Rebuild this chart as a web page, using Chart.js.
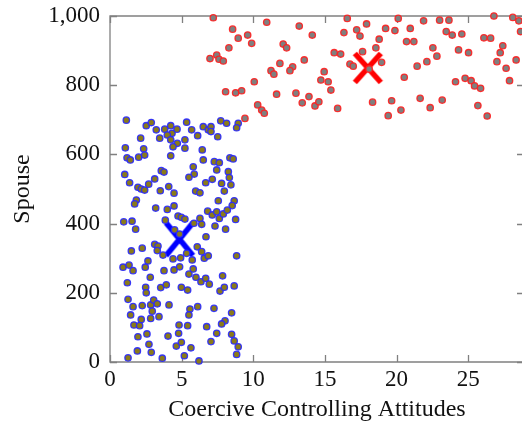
<!DOCTYPE html>
<html>
<head>
<meta charset="utf-8">
<script src="https://cdn.jsdelivr.net/npm/chart.js@4/dist/chart.umd.min.js"></script>
<style>
  html, body { margin: 0; padding: 0; overflow: hidden; background: #fff; }
  #wrap { width: 530px; height: 427px; }
</style>
</head>
<body>
<div id="wrap"><canvas id="c" width="530" height="427"></canvas></div>
<script>
// Spouse group: attitude score vs. spouse score
const spouseX = [
  1.14,2.53,2.88,3.23,3.82,4.24,4.33,4.68,4.00,3.47,2.14,4.24,4.70,4.40,1.07,2.35,1.19,1.42,2.00,2.42,
  4.24,1.03,1.37,1.95,2.18,2.42,2.70,3.12,3.58,3.77,3.51,4.10,4.47,1.84,1.72,3.19,4.00,4.47,4.75,4.98,
  0.96,1.54,1.79,3.86,4.51,4.86,
  5.35,5.70,6.12,6.51,6.86,7.05,7.05,7.52,7.73,8.14,8.95,8.84,5.23,5.23,6.44,6.51,7.28,7.63,7.45,8.37,
  8.60,5.81,5.88,5.51,8.26,8.33,7.14,6.68,7.79,8.44,7.98,5.98,6.28,7.56,8.67,8.53,6.82,7.14,7.45,7.63,
  7.91,8.19,8.77,5.23,5.86,6.28,6.40,7.33,8.07,
  1.49,2.25,3.12,3.35,3.30,3.70,4.40,4.93,0.91,1.33,1.61,2.65,2.46,3.77,4.47,4.86,2.81,1.21,2.49,2.53,
  3.54,3.93,4.98,1.26,1.61,2.25,2.84,3.05,3.30,2.95,4.12,1.44,2.18,2.84,3.42,1.67,2.07,4.82,4.79,2.58,
  1.95,4.05,2.72,4.63,4.98,1.91,2.88,1.26,3.65,
  6.70,6.09,6.40,6.58,6.86,5.35,5.74,5.81,5.51,6.00,6.35,6.68,6.93,7.86,8.84,5.42,7.68,7.98,8.67,5.58,
  6.12,5.51,7.26,8.49,8.03,7.79,5.42,6.75,7.45,8.49,8.67,8.95,8.84,7.05,5.65,5.19,6.21
];
const spouseY = [
  699,683,692,671,673,683,661,673,656,647,647,642,632,622,619,616,590,584,592,598,
  596,542,518,505,500,497,514,529,553,549,495,507,488,468,457,445,441,451,422,418,
  405,407,384,410,382,370,
  693,671,654,680,671,680,666,651,697,690,690,677,642,618,613,584,579,576,555,590,
  587,564,543,534,550,533,528,518,516,512,494,494,489,466,466,452,436,425,434,415,
  428,439,412,413,401,415,398,393,384,
  321,329,340,335,322,309,298,301,274,280,264,292,274,264,266,275,245,229,216,200,
  215,223,216,181,160,163,165,179,168,147,165,136,123,126,131,107,105,107,83,81,
  73,75,51,46,57,32,28,12,11,
  362,333,319,300,307,314,295,269,254,245,232,242,225,249,307,208,205,216,220,153,
  160,136,155,142,119,110,105,102,83,80,61,44,22,59,41,18,3
];

// Second group: attitude score vs. score
const otherX = [
  7.21,8.56,8.95,9.61,9.89,10.94,13.21,8.30,6.98,7.45,7.61,7.91,12.09,12.33,11.86,11.24,11.44,12.75,12.56,13.56,
  10.07,8.07,8.77,9.19,11.63,12.98,13.42,10.31,10.59,10.77,9.42,
  14.12,16.56,16.33,17.22,17.45,17.91,19.24,19.89,20.12,18.79,18.56,20.70,20.96,15.65,16.10,17.63,16.75,16.98,18.09,
  18.96,14.95,14.72,15.23,15.42,20.54,13.89,14.31,14.58,15.89,18.33,19.66,20.31,19.42,
  21.89,23.01,23.66,26.80,28.12,28.54,28.66,23.47,23.89,24.56,26.10,26.57,21.21,22.54,22.82,24.33,25.03,27.42,27.24,27.01,
  28.35,22.12,21.44,27.65,24.12,24.79,25.21,25.45,25.87,27.89,21.65,23.19,22.35,25.68,26.33
];
const otherY = [
  995,962,936,945,921,982,971,908,877,887,875,870,919,908,863,842,832,853,842,873,
  810,781,778,784,774,777,749,743,728,719,704,
  945,993,952,960,942,977,964,958,993,933,908,926,964,894,890,897,861,855,847,
  866,839,815,810,786,823,767,740,752,733,751,755,728,712,
  986,988,988,1000,996,986,955,955,945,948,937,936,926,908,884,902,894,914,894,868,
  873,868,855,849,810,820,813,798,791,813,762,757,735,741,711
];

// Group centres
const centreSpouse = { x: 4.85, y: 355 };
const centreOther = { x: 18.0, y: 850 };

const xTickStep = 5;
const yTickStep = 200;
const xRange = [0, 28.9];
const yRange = [0, 1000];

const xTitle = 'Coercive Controlling Attitudes';
const yTitle = 'Spouse';

function toPoints(xs, ys) {
  return xs.map((x, i) => ({ x: x, y: ys[i] }));
}

// X-shaped centre marker drawn once into a small canvas
function crossMark(color, w, h, lw) {
  const cv = document.createElement('canvas');
  cv.width = w + lw * 2;
  cv.height = h + lw * 2;
  const g = cv.getContext('2d');
  g.strokeStyle = color;
  g.lineWidth = lw;
  g.lineCap = 'butt';
  const ox = lw, oy = lw;
  g.beginPath();
  g.moveTo(ox, oy); g.lineTo(ox + w, oy + h);
  g.moveTo(ox + w, oy); g.lineTo(ox, oy + h);
  g.stroke();
  return cv;
}

const serif = "'Liberation Serif', 'Times New Roman', serif";
const textColor = '#111';
const frameColor = '#808080';

// Box frame with inward tick marks on all four sides
const framePlugin = {
  id: 'frame',
  beforeDatasetsDraw(chart) {
    const { ctx, chartArea: a, scales } = chart;
    const tl = 7;
    ctx.save();
    ctx.strokeStyle = frameColor;
    ctx.lineWidth = 1.3;
    ctx.beginPath();
    scales.x.ticks.forEach(t => {
      const px = Math.round(scales.x.getPixelForValue(t.value)) + 0.5;
      ctx.moveTo(px, a.bottom); ctx.lineTo(px, a.bottom - tl);
      ctx.moveTo(px, a.top); ctx.lineTo(px, a.top + tl);
    });
    scales.y.ticks.forEach(t => {
      const py = Math.round(scales.y.getPixelForValue(t.value)) + 0.5;
      ctx.moveTo(a.left, py); ctx.lineTo(a.left + tl, py);
      ctx.moveTo(a.right, py); ctx.lineTo(a.right - tl, py);
    });
    ctx.stroke();
    ctx.beginPath();
    ctx.rect(a.left, a.top, a.right - a.left, a.bottom - a.top);
    ctx.stroke();
    ctx.restore();
  }
};

new Chart(document.getElementById('c'), {
  type: 'scatter',
  data: {
    datasets: [
      {
        data: toPoints(otherX, otherY),
        pointRadius: 3.2,
        pointBorderWidth: 1.3,
        backgroundColor: '#7f7f7f',
        borderColor: 'rgba(255,30,30,0.9)',
        clip: false
      },
      {
        data: toPoints(spouseX, spouseY),
        pointRadius: 3.2,
        pointBorderWidth: 1.3,
        backgroundColor: '#8a7a1a',
        borderColor: 'rgba(40,40,255,0.9)',
        clip: false
      },
      {
        data: [centreOther],
        pointStyle: crossMark('#ff0000', 26, 29, 5.5),
        clip: false
      },
      {
        data: [centreSpouse],
        pointStyle: crossMark('#0000ff', 27, 33, 5.5),
        clip: false
      }
    ]
  },
  options: {
    responsive: false,
    animation: false,
    devicePixelRatio: 1,
    layout: { padding: { top: 16, right: 6, bottom: 0, left: 0 } },
    plugins: { legend: { display: false }, tooltip: { enabled: false } },
    scales: {
      x: {
        type: 'linear',
        min: xRange[0], max: xRange[1],
        border: { display: false },
        grid: { display: false, drawTicks: false, tickLength: 0 },
        ticks: { stepSize: xTickStep, includeBounds: false, padding: 4, color: textColor, font: { family: serif, size: 23 }, maxRotation: 0 },
        title: { display: true, text: xTitle, color: textColor, font: { family: serif, size: 24 }, padding: { top: 0, bottom: 3 } },
        afterFit(s) { s.height = 65; s.paddingLeft = 0; s.paddingRight = 0; }
      },
      y: {
        type: 'linear',
        min: yRange[0], max: yRange[1],
        border: { display: false },
        grid: { display: false, drawTicks: false, tickLength: 0 },
        ticks: { stepSize: yTickStep, padding: 10, color: textColor, font: { family: serif, size: 23 } },
        title: { display: true, text: yTitle, color: textColor, font: { family: serif, size: 24 }, padding: { top: 8, bottom: 0 } },
        afterFit(s) { s.width = 110; s.paddingTop = 0; s.paddingBottom = 0; }
      }
    }
  },
  plugins: [framePlugin]
});
</script>
</body>
</html>
